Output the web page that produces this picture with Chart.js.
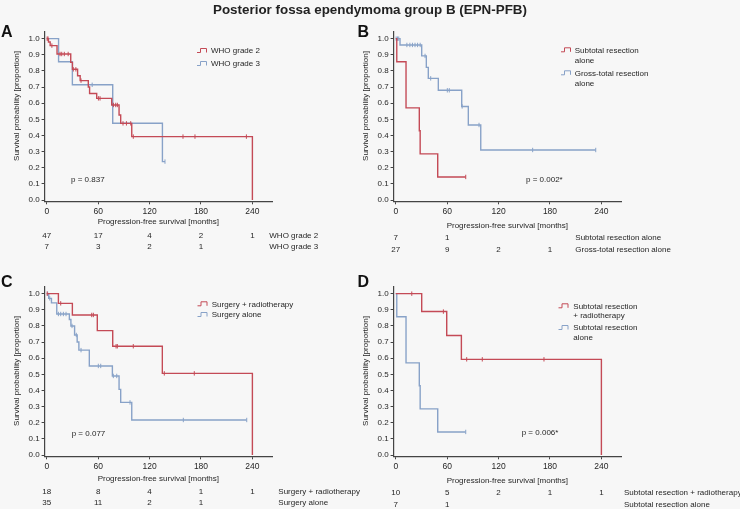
<!DOCTYPE html>
<html>
<head>
<meta charset="utf-8">
<title>Posterior fossa ependymoma group B (EPN-PFB)</title>
<script src="https://cdn.jsdelivr.net/npm/chart.js@4.4.1/dist/chart.umd.min.js"></script>
<style>
    body { margin: 0; width: 740px; height: 509px; position: relative; overflow: hidden; background: #f7f7f7; font-family: 'Liberation Sans', Arial, sans-serif; }
    h1 { position: absolute; left: 0; top: 2px; width: 740px; margin: 0; text-align: center; font-size: 13.4px; font-weight: bold; color: #222; z-index: 2; }
    canvas { position: absolute; }
</style>
</head>
<body>
<canvas id="panelA" width="370" height="255" style="left:0;top:0"></canvas>
<canvas id="panelB" width="391" height="255" style="left:349px;top:0"></canvas>
<canvas id="panelC" width="370" height="254" style="left:0;top:255px"></canvas>
<canvas id="panelD" width="391" height="254" style="left:349px;top:255px"></canvas>
<h1>Posterior fossa ependymoma group B (EPN-PFB)</h1>
<script>
// ---- axis ticks ----
const xTicks = [0, 60, 120, 180, 240];
const yTicks = [0, 0.1, 0.2, 0.3, 0.4, 0.5, 0.6, 0.7, 0.8, 0.9, 1.0];
const xTitle = "Progression-free survival [months]";
const yTitle = "Survival probability [proportion]";

// ---- A: WHO grade ----
const aGrade2Time = [0, 2, 4, 12, 28, 30, 36, 39, 48.5, 50, 58.3, 75.8, 84.4, 86.3, 99.2, 240];
const aGrade2Surv = [1.0, 0.979, 0.957, 0.905, 0.853, 0.81, 0.77, 0.74, 0.70, 0.66, 0.63, 0.589, 0.527, 0.475, 0.393, 0.0];
const aGrade2Cens = [0.5, 1.5, 6, 15.5, 17.5, 20.5, 25, 31, 34, 40, 60.3, 62.2, 77.8, 80.5, 82.4, 89, 93, 98, 101, 159, 173, 233];
const aGrade2Risk = [47, 17, 4, 2, 1];
const aGrade3Time = [0, 13.8, 29.9, 77, 135, 138];
const aGrade3Surv = [1.0, 0.857, 0.714, 0.476, 0.238, 0.238];
const aGrade3Cens = [53, 138];
const aGrade3Risk = [7, 3, 2, 1, null];

// ---- B: extent of resection, no radiotherapy ----
const bStrTime = [0, 1.2, 12, 27.5, 28.5, 49, 81.7];
const bStrSurv = [1.0, 0.857, 0.571, 0.429, 0.286, 0.143, 0.143];
const bStrCens = [81.7];
const bStrRisk = [7, 1, null, null, null];
const bGtrTime = [0, 5, 30.3, 35.7, 38, 49.7, 77, 84.7, 99.2, 233.4];
const bGtrSurv = [1.0, 0.961, 0.893, 0.822, 0.754, 0.68, 0.58, 0.465, 0.31, 0.31];
const bGtrCens = [0.5, 2, 3.5, 13, 16.5, 19.5, 22.5, 25.5, 28.5, 34.2, 40.8, 60.2, 62.5, 77.5, 97.2, 159.8, 233.4];
const bGtrRisk = [27, 9, 2, 1, null];

// ---- C: radiotherapy ----
const cRtTime = [0, 13.6, 29.9, 59, 77, 134.9, 240];
const cRtSurv = [1.0, 0.94, 0.868, 0.771, 0.674, 0.506, 0.0];
const cRtCens = [0.5, 16.3, 52.5, 54.4, 80.9, 82.4, 101, 137.2, 172.2];
const cRtRisk = [18, 8, 4, 1, 1];
const cSurgTime = [0, 2.3, 5.5, 11.7, 26.4, 28.2, 32.5, 35.5, 37.5, 49.7, 76.6, 84.4, 86.3, 99.2, 233.4];
const cSurgSurv = [1.0, 0.971, 0.943, 0.874, 0.84, 0.80, 0.744, 0.70, 0.65, 0.552, 0.49, 0.407, 0.326, 0.217, 0.217];
const cSurgCens = [1, 3.5, 13.6, 16.3, 19.4, 22.5, 29.5, 34.5, 40, 60.2, 63, 77.7, 81.7, 97.2, 159.4, 233.4];
const cSurgRisk = [35, 11, 2, 1, null];

// ---- D: subtotal resection +/- radiotherapy ----
const dStrRtTime = [0, 30.3, 59.5, 76.6, 240];
const dStrRtSurv = [1.0, 0.889, 0.741, 0.593, 0.0];
const dStrRtCens = [18.7, 55.6, 82.8, 101, 173];
const dStrRtRisk = [10, 5, 2, 1, 1];
const dStrTime = [0, 1.2, 12, 27.5, 28.5, 49, 81.7];
const dStrSurv = [1.0, 0.857, 0.571, 0.429, 0.286, 0.143, 0.143];
const dStrCens = [81.7];
const dStrRisk = [7, 1, null, null, null];

const FONT = "'Liberation Sans', Arial, sans-serif";
const RED = '#c44a56';
const BLUE = '#88a2c8';
const AXIS = '#444';
const TXT = '#262626';

Chart.defaults.font.family = FONT;

// panel layouts (canvas-local pixels)
const specs = {
    panelA: {
        letter: 'A', letterX: 1, letterY: 33, yTitleY: 106, xTitleY: 222,
        pText: 'p = 0.837', pX: 71, pY: 179.3,
        symX: 197, legendTextX: 211, legendY: [51, 64], legendGap: 10,
        riskY: [235.7, 246.7], riskLabelX: 269.3,
        series: [
            { color: RED, time: aGrade2Time, surv: aGrade2Surv, cens: aGrade2Cens, risk: aGrade2Risk, legend: ['WHO grade 2'], riskLabel: 'WHO grade 2' },
            { color: BLUE, time: aGrade3Time, surv: aGrade3Surv, cens: aGrade3Cens, risk: aGrade3Risk, legend: ['WHO grade 3'], riskLabel: 'WHO grade 3' }
        ]
    },
    panelB: {
        letter: 'B', letterX: 8.5, letterY: 33, yTitleY: 106, xTitleY: 225.7,
        pText: 'p = 0.002*', pX: 177, pY: 179.3,
        symX: 212, legendTextX: 225.7, legendY: [50.3, 73.3], legendGap: 10,
        riskY: [237.7, 250], riskLabelX: 226.3,
        series: [
            { color: RED, time: bStrTime, surv: bStrSurv, cens: bStrCens, risk: bStrRisk, legend: ['Subtotal resection', 'alone'], riskLabel: 'Subtotal resection alone' },
            { color: BLUE, time: bGtrTime, surv: bGtrSurv, cens: bGtrCens, risk: bGtrRisk, legend: ['Gross-total resection', 'alone'], riskLabel: 'Gross-total resection alone' }
        ]
    },
    panelC: {
        letter: 'C', letterX: 1, letterY: 28, yTitleY: 116, xTitleY: 223.3,
        pText: 'p = 0.077', pX: 71.7, pY: 178.3,
        symX: 197.5, legendTextX: 211.7, legendY: [49.3, 60], legendGap: 10,
        riskY: [236.7, 247.7], riskLabelX: 278.3,
        series: [
            { color: RED, time: cRtTime, surv: cRtSurv, cens: cRtCens, risk: cRtRisk, legend: ['Surgery + radiotherapy'], riskLabel: 'Surgery + radiotherapy' },
            { color: BLUE, time: cSurgTime, surv: cSurgSurv, cens: cSurgCens, risk: cSurgRisk, legend: ['Surgery alone'], riskLabel: 'Surgery alone' }
        ]
    },
    panelD: {
        letter: 'D', letterX: 8.5, letterY: 28, yTitleY: 116, xTitleY: 226,
        pText: 'p = 0.006*', pX: 172.7, pY: 177.3,
        symX: 209.5, legendTextX: 224.3, legendY: [51.3, 73], legendGap: 9.7,
        riskY: [237.3, 249.3], riskLabelX: 275,
        series: [
            { color: RED, time: dStrRtTime, surv: dStrRtSurv, cens: dStrRtCens, risk: dStrRtRisk, legend: ['Subtotal resection', '+ radiotherapy'], riskLabel: 'Subtotal resection + radiotherapy' },
            { color: BLUE, time: dStrTime, surv: dStrSurv, cens: dStrCens, risk: dStrRisk, legend: ['Subtotal resection', 'alone'], riskLabel: 'Subtotal resection alone' }
        ]
    }
};

// survival value of a step curve at time t (for placing censor ticks)
function survAt(s, t) {
    let v = s.surv[0];
    for (let i = 0; i < s.time.length; i++) {
        if (s.time[i] <= t) v = s.surv[i];
    }
    return v;
}

const panelText = {
    id: 'panelText',
    afterDraw(chart) {
        const p = specs[chart.canvas.id];
        const ctx = chart.ctx;
        const xs = chart.scales.x;
        const area = chart.chartArea;
        ctx.save();
        ctx.textBaseline = 'middle';

        // panel letter
        ctx.fillStyle = '#111';
        ctx.textAlign = 'left';
        ctx.font = 'bold 16px ' + FONT;
        ctx.fillText(p.letter, p.letterX, p.letterY);

        ctx.fillStyle = TXT;
        ctx.font = '8px ' + FONT;

        // axis titles
        ctx.save();
        ctx.translate(16.7, p.yTitleY);
        ctx.rotate(-Math.PI / 2);
        ctx.textAlign = 'center';
        ctx.fillText(yTitle, 0, 0);
        ctx.restore();
        ctx.textAlign = 'center';
        ctx.fillText(xTitle, (area.left + area.right) / 2, p.xTitleY);

        // p value
        ctx.textAlign = 'left';
        ctx.fillText(p.pText, p.pX, p.pY);

        // legend with small step symbols
        p.series.forEach((s, i) => {
            const y = p.legendY[i];
            ctx.strokeStyle = s.color;
            ctx.lineWidth = 1;
            ctx.beginPath();
            ctx.moveTo(p.symX, y + 1.5);
            ctx.lineTo(p.symX + 3.5, y + 1.5);
            ctx.lineTo(p.symX + 3.5, y - 2.5);
            ctx.lineTo(p.symX + 9.5, y - 2.5);
            ctx.lineTo(p.symX + 9.5, y + 1.5);
            ctx.stroke();
            s.legend.forEach((line, j) => ctx.fillText(line, p.legendTextX, y + j * p.legendGap));
        });

        // numbers at risk
        p.series.forEach((s, i) => {
            ctx.textAlign = 'center';
            s.risk.forEach((n, k) => {
                if (n !== null) ctx.fillText(String(n), xs.getPixelForValue(xTicks[k]), p.riskY[i]);
            });
            ctx.textAlign = 'left';
            ctx.fillText(s.riskLabel, p.riskLabelX, p.riskY[i]);
        });
        ctx.restore();
    }
};

function buildPanel(id) {
    const p = specs[id];
    const canvas = document.getElementById(id);
    const datasets = [];
    p.series.forEach(s => {
        datasets.push({
            data: s.time.map((t, i) => ({ x: t, y: s.surv[i] })),
            borderColor: s.color,
            borderWidth: 1.4,
            stepped: 'before',
            pointRadius: 0,
            fill: false
        });
        datasets.push({
            data: s.cens.map(t => ({ x: t, y: survAt(s, t) })),
            showLine: false,
            borderColor: s.color,
            pointStyle: 'line',
            pointRotation: 90,
            pointRadius: 2.2,
            pointBorderWidth: 1,
            pointBorderColor: s.color
        });
    });

    new Chart(canvas, {
        type: 'line',
        data: { datasets },
        options: {
            responsive: false,
            animation: false,
            events: [],
            layout: {
                padding: { left: 24.6, top: 31.4, right: canvas.width - 272.1, bottom: canvas.height - 201.3 - 20 }
            },
            scales: {
                x: {
                    type: 'linear',
                    min: -2.5,
                    max: 263,
                    afterFit: s => { s.height = 20; },
                    afterBuildTicks: s => { s.ticks = xTicks.map(v => ({ value: v })); },
                    grid: { drawOnChartArea: false, tickLength: 3, color: AXIS },
                    border: { color: AXIS, width: 1.2 },
                    ticks: { padding: 2, color: TXT, font: { size: 8.5 }, maxRotation: 0, autoSkip: false }
                },
                y: {
                    type: 'linear',
                    min: -0.008,
                    max: 1.045,
                    afterFit: s => { s.width = 20; },
                    afterBuildTicks: s => { s.ticks = yTicks.map(v => ({ value: v })); },
                    grid: { drawOnChartArea: false, tickLength: 3, color: AXIS },
                    border: { color: AXIS, width: 1.2 },
                    ticks: { padding: 2, color: TXT, font: { size: 8 }, autoSkip: false, callback: v => v.toFixed(1) }
                }
            },
            plugins: {
                legend: { display: false },
                tooltip: { enabled: false }
            }
        },
        plugins: [panelText]
    });
}

['panelA', 'panelB', 'panelC', 'panelD'].forEach(buildPanel);
</script>
</body>
</html>
